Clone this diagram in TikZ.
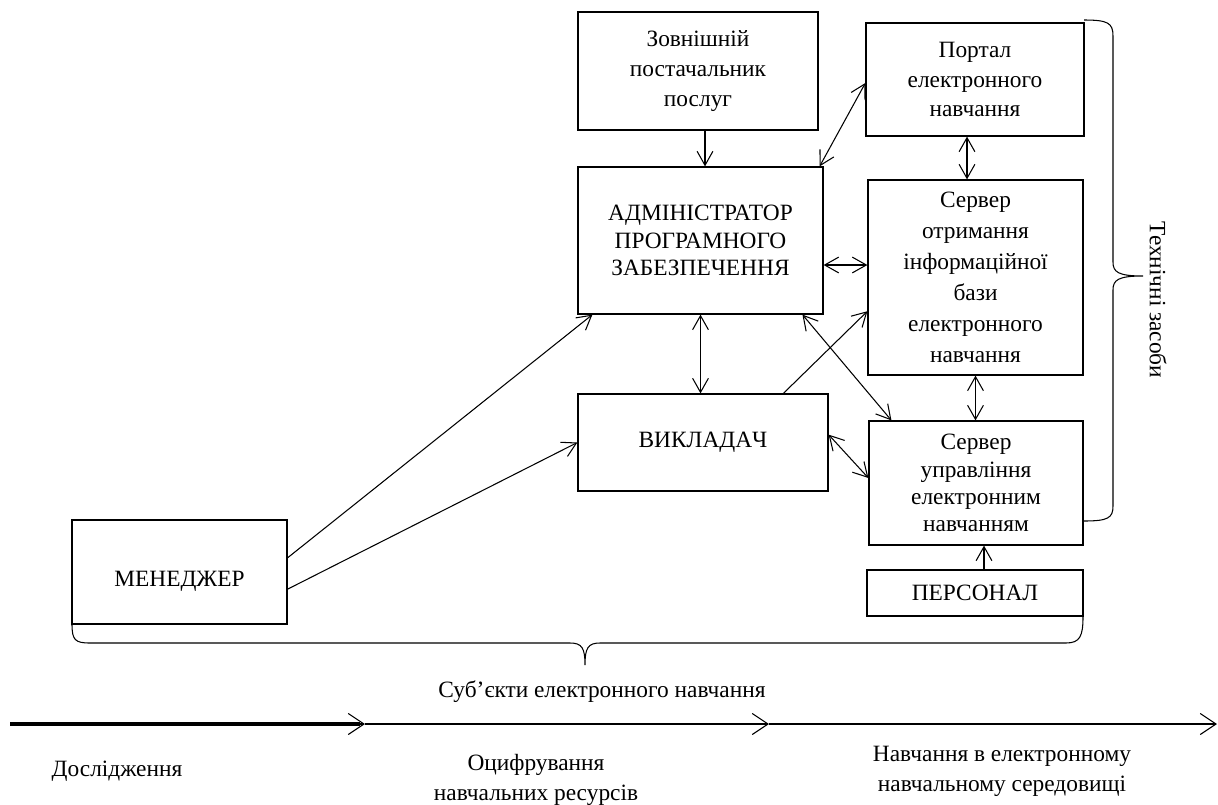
\documentclass[tikz,border=0pt]{standalone}
\usepackage{fontspec}
\setmainfont{Liberation Serif}
\usetikzlibrary{arrows.meta,calc}
\begin{document}
\begin{tikzpicture}[x=0.02cm,y=-0.02cm,
  txt/.style={font=\fontsize{13.3}{17}\selectfont, align=center},
  tight/.style={font=\fontsize{13.3}{15.5}\selectfont},
  box/.style={txt, draw, line width=0.7pt, inner sep=0pt},
  wh/.style 2 args={minimum width=#1*0.02cm, minimum height=#2*0.02cm},
  link/.style={line width=0.6pt, -{Straight Barb[length=8pt,width=9pt]}},
  both/.style={line width=0.6pt, {Straight Barb[length=8pt,width=9pt]}-{Straight Barb[length=8pt,width=9pt]}},
  brace/.style={line width=0.6pt},
  chev/.style={line width=0.6pt, -{Straight Barb[length=9pt,width=12pt]}}
]
\useasboundingbox (0,0) rectangle (1218,805);

% participants and technical means
\node[box, wh={240}{118}] (ext) at (698,71) {Зовнішній\\постачальник\\послуг};
\node[box, tight, wh={245}{147}] (adm) at (700.5,240.5) {АДМІНІСТРАТОР\\ПРОГРАМНОГО\\ЗАБЕЗПЕЧЕННЯ};
\node[box, wh={218}{113}] (portal) at (975,79.5) {Портал\\електронного\\навчання};
\node[box, font=\fontsize{13.3}{17.6}\selectfont, wh={215}{195}] (srvinfo) at (975.5,277.5) {Сервер\\отримання\\інформаційної\\бази\\електронного\\навчання};
\node[box, tight, wh={214}{124}] (srvman) at (976,483) {Сервер\\управління\\електронним\\навчанням};
\node[box, wh={216}{46}] (staff) at (975,593) {ПЕРСОНАЛ};
\node[box, wh={250}{97}] (teach) at (703,442.5) {ВИКЛАДА\kern0ptЧ};
\node[box, wh={215}{104}] (mgr) at (179.5,572) {\raisebox{-8.5pt}[0pt][0pt]{МЕНЕДЖЕР}};

% links
\draw[link] ($(ext.south)+(7,0)$) coordinate (a1) -- (a1 |- adm.north);
\draw[both] ($(adm.north east)+(-4,0)$) -- ($(portal.west)+(0,3.5)$);
\draw[both] ($(portal.south)+(-8,0)$) -- ($(srvinfo.north)+(-8.5,0)$);
\draw[both] ($(adm.east)+(0,24.5)$) coordinate (a4) -- (a4 -| srvinfo.west);
\draw[both] (adm.south) -- (adm.south |- teach.north);
\draw[both] ($(adm.south west)!0.914!(adm.south east)$) -- ($(srvman.north west)!0.107!(srvman.north east)$);
\draw[link] ($(teach.north west)!0.82!(teach.north east)$) -- ($(srvinfo.north west)!0.672!(srvinfo.south west)$);
\draw[both] ($(teach.north east)!0.42!(teach.south east)$) -- ($(srvman.north west)!0.46!(srvman.south west)$);
\draw[both] (srvinfo.south) -- (srvinfo.south |- srvman.north);
\draw[link] ($(staff.north)+(9,0)$) coordinate (a10) -- (a10 |- srvman.south);
\draw[link] ($(mgr.north east)!0.365!(mgr.south east)$) -- ($(adm.south west)!0.061!(adm.south east)$);
\draw[link] ($(mgr.north east)!0.663!(mgr.south east)$) -- (teach.west);

% brace under the participants
\draw[brace] (72,624) .. controls (72,640) and (75,643) .. (90,643) -- (570,643)
  .. controls (582,643) and (585,648) .. (585,665)
  .. controls (585,648) and (588,643) .. (600,643) -- (1066,643)
  .. controls (1080,643) and (1083,636) .. (1083,617);
\node[txt] (subj) at (602,692) {Суб’єкти електронного навчання};

% brace beside the technical means
\draw[brace] (1084,20) .. controls (1108,20) and (1113,23) .. (1113,36) -- (1113,262)
  .. controls (1113,272) and (1118,276) .. (1143,276)
  .. controls (1118,276) and (1113,280) .. (1113,290) -- (1113,506)
  .. controls (1113,518) and (1108,521) .. (1084,521);
\node[txt, rotate=-90] (tech) at (1158,300) {Технічні засоби};

% stages
\coordinate (t0) at (10,724);
\coordinate (t1) at (365,724);
\coordinate (t2) at (769,724);
\coordinate (t3) at (1217,724);
\draw[line width=2.2pt] (t0) -- ($(t1)+(-5,0)$);
\draw[chev] (t0) -- (t1);
\draw[chev] (t1) -- (t2);
\draw[chev] (t2) -- (t3);
\node[txt] (st1) at (117,771) {Дослідження};
\node[txt] (st2) at (536,780) {Оцифрування\\навчальних ресурсів};
\node[txt] (st3) at (1002,771) {Навчання в електронному\\навчальному середовищі};
\end{tikzpicture}
\end{document}
